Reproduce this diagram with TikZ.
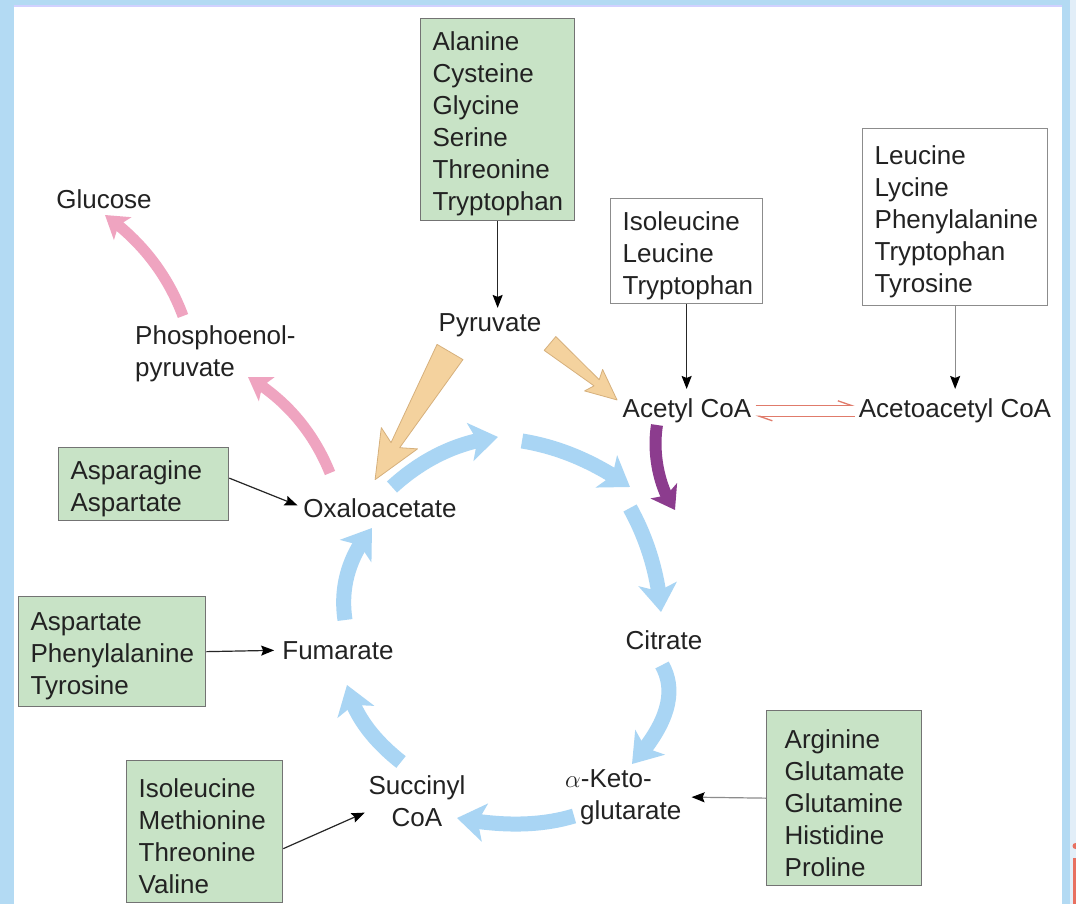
\documentclass[tikz,border=0pt]{standalone}
\usepackage{fontspec}
\setmainfont{Liberation Sans}
\usetikzlibrary{arrows.meta,calc,bending}
\definecolor{bgblue}{HTML}{B3DAF3}
\definecolor{bglight}{HTML}{E2EEF8}
\definecolor{boxgreen}{HTML}{C8E3C6}
\definecolor{cycblue}{HTML}{A9D5F4}
\definecolor{orng}{HTML}{F4D29E}
\definecolor{orngedge}{HTML}{D6B07C}
\definecolor{pnk}{HTML}{EFA4C0}
\definecolor{purp}{HTML}{8C3C8E}
\definecolor{harp}{HTML}{E07B6B}
\definecolor{txt}{HTML}{222222}
\definecolor{markred}{HTML}{E87060}
\newcommand{\tp}{\rule{0pt}{28pt}}
\begin{document}
\begin{tikzpicture}[x=1pt,y=-1pt,
  lbl/.style={font=\fontsize{26}{32}\selectfont, text=txt, inner sep=0pt},
  aabox/.style={lbl, draw=black!55, line width=1.3pt, align=left, anchor=north west, inner xsep=12pt, inner ysep=0pt},
  gbox/.style={aabox, fill=boxgreen},
  wbox/.style={aabox, fill=white, draw=black!45},
  thinarr/.style={draw=black!85, line width=1.2pt, -{Stealth[length=13pt,width=10pt,inset=2pt,color=black]}},
  grayarr/.style={thinarr, draw=black!45},
  cyc/.style={draw=cycblue, line width=15pt, -{Stealth[length=28pt,width=38pt,inset=7pt]}},
  pnkarr/.style={draw=pnk, line width=11pt, -{Stealth[length=22pt,width=28pt,inset=5pt]}},
  purarr/.style={draw=purp, line width=12pt, -{Stealth[length=22pt,width=30pt,inset=5pt]}},
  orwedge/.style={fill=orng, draw=orngedge, line width=0.8pt, line join=round},
  harparr/.style={draw=harp, line width=1.3pt, -{Straight Barb[left,length=13pt,width=9pt]}, shorten <=4pt, shorten >=4pt}
]
\useasboundingbox (0,0) rectangle (1076,904);
% frame
\fill[bgblue] (0,0) rectangle (1076,904);
\fill[bglight] (1070,0) rectangle (1076,904);
\fill[white] (14,7) rectangle (1062,904);
\fill[blue!18] (14,5) rectangle (1062,7);
\fill[markred] (1073,858) rectangle (1076,904);
\fill[markred] (1075.5,846) circle (3);

% amino acid boxes
\node[gbox, text width=130pt, minimum height=202pt] (aa1) at (420,18)
  {\tp Alanine\\Cysteine\\Glycine\\Serine\\Threonine\\Tryptophan};
\node[wbox, text width=128pt, minimum height=105pt] (aa2) at (610,198)
  {\tp Isoleucine\\Leucine\\Tryptophan};
\node[wbox, text width=161pt, minimum height=177pt] (aa3) at (862,128)
  {\tp Leucine\\Lycine\\Phenylalanine\\Tryptophan\\Tyrosine};
\node[gbox, text width=146pt, minimum height=73pt] (aa4) at (58,447)
  {\tp Asparagine\\Aspartate};
\node[gbox, text width=163pt, minimum height=110pt] (aa5) at (18,596)
  {\tp Aspartate\\Phenylalanine\\Tyrosine};
\node[gbox, text width=132pt, minimum height=142pt] (aa6) at (126,760)
  {\tp Isoleucine\\Methionine\\Threonine\\Valine};
\node[gbox, text width=119pt, minimum height=175pt, inner xsep=18pt] (aa7) at (766,710)
  {\tp Arginine\\Glutamate\\Glutamine\\Histidine\\Proline};

% metabolite labels
\node[lbl, anchor=base] (glc) at (104,209) {Glucose};
\node[lbl, anchor=west, align=left] (pep) at (135,354) {Phosphoenol-\\pyruvate};
\node[lbl, anchor=base] (pyr) at (490,331) {Pyruvate};
\node[lbl, anchor=base] (acoa) at (687,417) {Acetyl CoA};
\node[lbl, anchor=base] (aacoa) at (955,417) {Acetoacetyl CoA};
\node[lbl, anchor=base] (oaa) at (380,517) {Oxaloacetate};
\node[lbl, anchor=base] (fum) at (338,659) {Fumarate};
\node[lbl, anchor=base] (cit) at (664,649) {Citrate};
\node[lbl, anchor=west, align=left] (akg) at (565,797) {$\alpha$-Keto-\\\hspace*{15pt}glutarate};
\node[lbl, align=center] (succ) at (417,801) {Succinyl\\CoA};

% thin connectors
\draw[thinarr, shorten >=5pt] (aa1.south) -- (aa1.south |- pyr.north);
\draw[thinarr, shorten >=9pt] (aa2.south) -- (aa2.south |- acoa.north);
\draw[grayarr, shorten >=9pt] (aa3.south) -- (aa3.south |- aacoa.north);
\draw[thinarr, shorten >=6pt] ([yshift=6pt]aa4.east) -- (oaa.west);
\draw[thinarr, shorten >=8pt] (aa5.east) -- (fum.west);
\draw[thinarr, shorten >=4pt] ([yshift=-17pt]aa6.east) -- ([yshift=-10pt]succ.west);
\draw[grayarr, shorten >=10pt] (aa7.west) -- (akg.east);

% reversible harpoons
\draw[harparr] ([yshift=5pt]acoa.east) -- ([yshift=5pt]aacoa.west);
\draw[harparr] ([yshift=-6pt]aacoa.west) -- ([yshift=-6pt]acoa.east);

% gluconeogenesis (pink)
\draw[pnkarr] (183,316) .. controls (167.7,275) and (141.7,241.3) .. (105,215);
\draw[pnkarr] (330,473) .. controls (313.3,431.7) and (286,399.7) .. (248,377);

% pyruvate wedges (orange)
\begin{scope}[shift={(450,352)}, rotate=239.6]
  \filldraw[orwedge] (0,15) -- (108,5) -- (100,21) -- (148,0) -- (100,-21) -- (108,-5) -- (0,-15) -- cycle;
\end{scope}
\begin{scope}[shift={(550,343.5)}, rotate=-40.1]
  \filldraw[orwedge] (0,9) -- (61,4) -- (57,14) -- (87.6,0) -- (57,-14) -- (61,-4) -- (0,-9) -- cycle;
\end{scope}

% acetyl CoA into cycle (purple)
\draw[purarr] (657,425) .. controls (652,455) and (660,490) .. (675,510);

% citric acid cycle (blue)
\draw[cyc] (392,487) .. controls (423.3,458.3) and (458.7,441.7) .. (498,437);
\draw[cyc] (522,441) .. controls (559.3,447) and (595.3,462.3) .. (630,487);
\draw[cyc] (630,508) .. controls (647.7,540) and (658,574.7) .. (661,612);
\draw[cyc] (662,665) .. controls (677.3,692) and (667.3,725) .. (632,764);
\draw[cyc] (574,816) .. controls (541,826) and (502,826.7) .. (457,818);
\draw[cyc] (401,762) .. controls (371,738.3) and (353,712.7) .. (347,685);
\draw[cyc] (345,620) .. controls (340,586.7) and (349,556) .. (372,528);
\end{tikzpicture}
\end{document}
